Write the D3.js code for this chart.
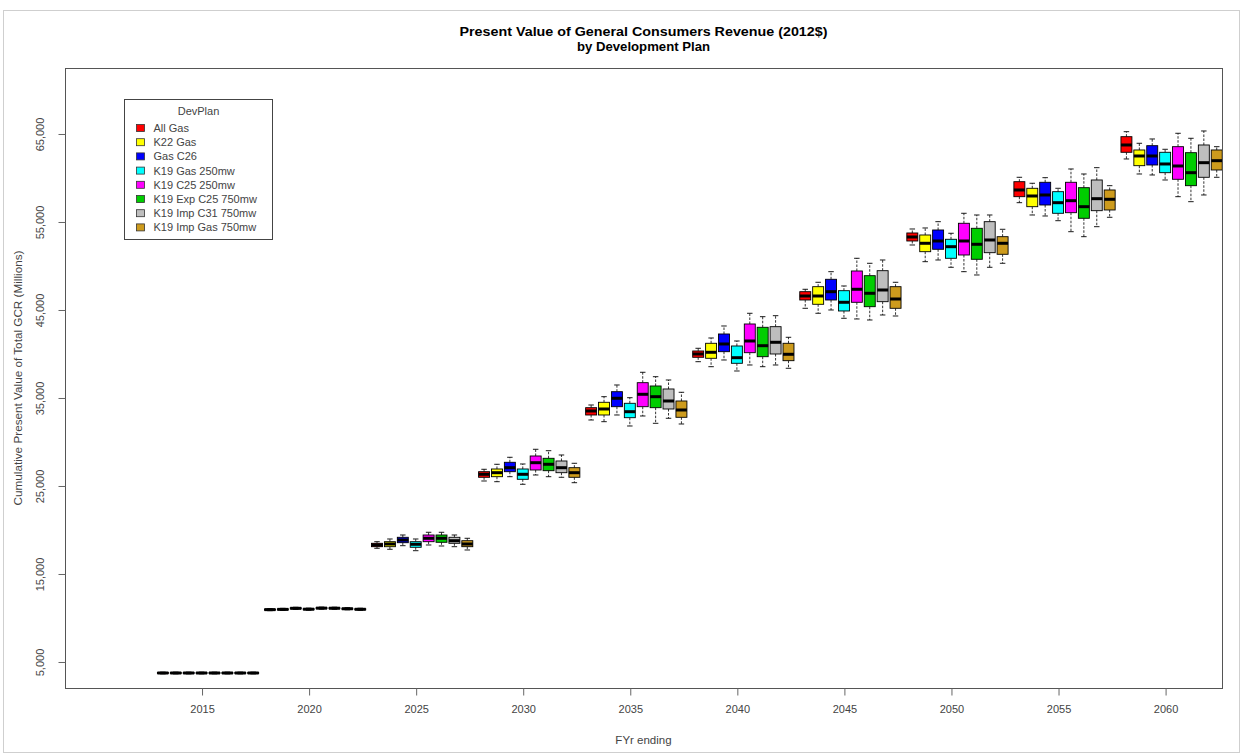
<!DOCTYPE html>
<html>
<head>
<meta charset="utf-8">
<script src="https://cdn.jsdelivr.net/npm/d3@7"></script>
<style>
  html, body { margin: 0; padding: 0; background: #fff; }
  svg text { font-family: "Liberation Sans", Arial, sans-serif; }
</style>
</head>
<body>
<svg id="chart" width="1242" height="755"></svg>
<script>
// development plans, in legend order
const plans = ['All Gas', 'K22 Gas', 'Gas C26', 'K19 Gas 250mw', 'K19 C25 250mw',
               'K19 Exp C25 750mw', 'K19 Imp C31 750mw', 'K19 Imp Gas 750mw'];
const planColors = ['#FF0000', '#FFFF00', '#0000FF', '#00FFFF', '#FF00FF',
                    '#00CD00', '#BEBEBE', '#CD9B1D'];

const years = [2015, 2020, 2025, 2030, 2035, 2040, 2045, 2050, 2055, 2060];
const yTicks = [5000, 15000, 25000, 35000, 45000, 55000, 65000];

// per year: one row per plan -> [lower whisker, Q1, median, Q3, upper whisker]
const fy2015 = [
  [3650, 3690, 3750, 3810, 3850], [3650, 3690, 3750, 3810, 3850],
  [3650, 3690, 3750, 3810, 3850], [3650, 3690, 3750, 3810, 3850],
  [3650, 3690, 3750, 3810, 3850], [3650, 3690, 3750, 3810, 3850],
  [3650, 3690, 3750, 3810, 3850], [3650, 3690, 3750, 3810, 3850]
];
const fy2020 = [
  [10830, 10890, 10950, 11010, 11070], [10860, 10920, 10980, 11040, 11100],
  [10980, 11040, 11100, 11160, 11220], [10880, 10940, 11000, 11060, 11120],
  [11000, 11060, 11120, 11180, 11240], [10990, 11050, 11110, 11170, 11230],
  [10930, 10990, 11050, 11110, 11170], [10870, 10930, 10990, 11050, 11110]
];
const fy2025 = [
  [17921, 18103, 18296, 18489, 18671], [17807, 18103, 18410, 18671, 18978],
  [18216, 18557, 18864, 19171, 19432], [17648, 18034, 18375, 18671, 18978],
  [18296, 18671, 19057, 19432, 19739], [18182, 18603, 19057, 19432, 19739],
  [18103, 18489, 18784, 19171, 19432], [17728, 18103, 18410, 18784, 19057]
];
const fy2030 = [
  [25569, 25989, 26330, 26626, 26898], [25489, 26057, 26512, 26933, 27467],
  [26057, 26626, 27080, 27694, 28262], [25194, 25762, 26330, 26933, 27501],
  [26251, 26819, 27648, 28410, 29171], [26057, 26739, 27467, 28148, 29012],
  [25989, 26512, 27080, 27842, 28523], [25376, 25989, 26512, 27080, 27580]
];
const fy2035 = [
  [32501, 33069, 33524, 33899, 34205], [32308, 33069, 33751, 34512, 35149],
  [33069, 34012, 34967, 35717, 36478], [31819, 32762, 33444, 34398, 35035],
  [32955, 34012, 35421, 36740, 37921], [32125, 33899, 35149, 36365, 37421],
  [32694, 33751, 34660, 36024, 37046], [32046, 32807, 33637, 34660, 35649]
];
const fy2040 = [
  [39126, 39626, 40001, 40342, 40649], [38558, 39512, 40194, 41217, 41819],
  [39319, 40263, 41138, 42274, 43183], [38069, 38944, 39580, 40910, 41478],
  [38751, 40149, 41478, 43410, 44626], [38558, 39694, 40944, 43035, 44240],
  [38751, 40001, 41331, 43104, 44354], [38376, 39240, 39967, 41217, 41899]
];
const fy2045 = [
  [45194, 46138, 46592, 47081, 47354], [44626, 45649, 46592, 47649, 48149],
  [45001, 46138, 47081, 48490, 49354], [44058, 44888, 45876, 47194, 47729],
  [43979, 45876, 47354, 49433, 50876], [43865, 45376, 46899, 48899, 50308],
  [44433, 45945, 47274, 49467, 50683], [44319, 45194, 46251, 47649, 48149]
];
const fy2050 = [
  [52388, 52842, 53297, 53752, 54206], [50490, 51626, 52581, 53524, 54320],
  [50683, 51899, 52842, 54092, 55036], [49853, 50876, 52195, 53036, 53718],
  [49354, 51251, 52842, 54854, 55990], [48979, 50763, 52467, 54285, 55797],
  [49853, 51513, 52956, 55036, 55797], [50308, 51331, 52581, 53331, 54172]
];
const fy2055 = [
  [57195, 57877, 58638, 59581, 60081], [55797, 56740, 57956, 58831, 59400],
  [55683, 56933, 58070, 59513, 60036], [55149, 55990, 57195, 58445, 58831],
  [53899, 56058, 57422, 59513, 61025], [53331, 55422, 56740, 58899, 60456],
  [54468, 56286, 57650, 59774, 61172], [55535, 56365, 57581, 58638, 59127]
];
const fy2060 = [
  [62161, 62922, 63752, 64695, 65263], [60456, 61400, 62502, 63184, 63945],
  [60343, 61479, 62502, 63672, 64434], [59774, 60604, 61593, 62922, 63263],
  [57877, 59854, 61365, 63559, 65081], [57309, 59127, 60604, 62877, 64513],
  [58070, 60081, 61741, 63752, 65343], [60081, 60911, 61968, 63184, 63559]
];
const statsByYear = [fy2015, fy2020, fy2025, fy2030, fy2035, fy2040, fy2045, fy2050, fy2055, fy2060];

// flatten into one row per box
const boxes = [];
years.forEach((yr, yi) => {
  statsByYear[yi].forEach((s, pi) => {
    boxes.push({ year: yr, plan: plans[pi], color: planColors[pi],
                 lo: s[0], q1: s[1], med: s[2], q3: s[3], hi: s[4] });
  });
});

const plot = { left: 65, right: 1222, top: 68, bottom: 688 };
const midX = (plot.left + plot.right) / 2;

const svg = d3.select('#chart');

// faint frame around the whole picture
svg.append('rect')
  .attr('x', 3.5).attr('y', 10.5).attr('width', 1236).attr('height', 742)
  .attr('fill', 'none').attr('stroke', '#cfcfcf');

const x = d3.scaleLinear()
  .domain([2008.6, 2062.635])
  .range([plot.left, plot.right]);

const y = d3.scaleLinear()
  .domain([2045, 72500])
  .range([plot.bottom, plot.top]);

// position of a plan inside its year group (pixels relative to the year tick)
const inner = d3.scaleBand()
  .domain(plans)
  .range([-45.6, 57.6])
  .paddingInner(0.15)
  .paddingOuter(0.075);

svg.append('defs').append('clipPath').attr('id', 'plotClip')
  .append('rect')
  .attr('x', plot.left).attr('y', plot.top)
  .attr('width', plot.right - plot.left).attr('height', plot.bottom - plot.top);

const g = svg.append('g').attr('clip-path', 'url(#plotClip)');

const bw = inner.bandwidth();
const box = g.selectAll('g.box')
  .data(boxes)
  .enter().append('g')
  .attr('class', 'box')
  .attr('transform', d => `translate(${x(d.year) + inner(d.plan)},0)`);

// whiskers (dashed) and caps
box.append('line')
  .attr('x1', bw / 2).attr('x2', bw / 2)
  .attr('y1', d => y(d.q3)).attr('y2', d => y(d.hi))
  .attr('stroke', '#000').attr('stroke-width', 0.8)
  .attr('stroke-dasharray', '2.5,1.5');
box.append('line')
  .attr('x1', bw / 2).attr('x2', bw / 2)
  .attr('y1', d => y(d.q1)).attr('y2', d => y(d.lo))
  .attr('stroke', '#000').attr('stroke-width', 0.8)
  .attr('stroke-dasharray', '2.5,1.5');
box.append('line')
  .attr('x1', bw / 4).attr('x2', bw * 3 / 4)
  .attr('y1', d => y(d.hi)).attr('y2', d => y(d.hi))
  .attr('stroke', '#000').attr('stroke-width', 0.9);
box.append('line')
  .attr('x1', bw / 4).attr('x2', bw * 3 / 4)
  .attr('y1', d => y(d.lo)).attr('y2', d => y(d.lo))
  .attr('stroke', '#000').attr('stroke-width', 0.9);

box.append('rect')
  .attr('x', 0).attr('width', bw)
  .attr('y', d => y(d.q3))
  .attr('height', d => Math.max(0.5, y(d.q1) - y(d.q3)))
  .attr('fill', d => d.color)
  .attr('stroke', '#000').attr('stroke-width', 0.9);

box.append('line')
  .attr('x1', 0).attr('x2', bw)
  .attr('y1', d => y(d.med)).attr('y2', d => y(d.med))
  .attr('stroke', '#000').attr('stroke-width', 3);

// plot frame
svg.append('rect')
  .attr('x', plot.left + 0.5).attr('y', plot.top + 0.5)
  .attr('width', plot.right - plot.left).attr('height', plot.bottom - plot.top)
  .attr('fill', 'none').attr('stroke', '#555').attr('stroke-width', 1);

// axes
const xAxis = d3.axisBottom(x).tickValues(years).tickSize(7).tickPadding(10)
  .tickFormat(d3.format('d'));
const xg = svg.append('g')
  .attr('transform', `translate(0,${plot.bottom + 0.5})`)
  .call(xAxis);
xg.select('.domain').remove();
xg.selectAll('line').attr('stroke', '#666');
xg.selectAll('text').attr('font-size', 11).attr('fill', '#444');

const yAxis = d3.axisLeft(y).tickValues(yTicks).tickSize(7).tickFormat(d3.format(','));
const yg = svg.append('g')
  .attr('transform', `translate(${plot.left + 0.5},0)`)
  .call(yAxis);
yg.select('.domain').remove();
yg.selectAll('line').attr('stroke', '#666');
yg.selectAll('.tick text')
  .attr('font-size', 11).attr('fill', '#444')
  .attr('x', null).attr('dy', null).attr('y', 0)
  .attr('text-anchor', 'middle')
  .attr('transform', 'translate(-22,0) rotate(-90)');

// titles
svg.append('text')
  .attr('x', midX).attr('y', 36)
  .attr('text-anchor', 'middle').attr('font-size', 13).attr('font-weight', 'bold')
  .attr('textLength', 368).attr('lengthAdjust', 'spacingAndGlyphs')
  .text('Present Value of General Consumers Revenue (2012$)');
svg.append('text')
  .attr('x', midX).attr('y', 51)
  .attr('text-anchor', 'middle').attr('font-size', 13).attr('font-weight', 'bold')
  .attr('textLength', 133).attr('lengthAdjust', 'spacingAndGlyphs')
  .text('by Development Plan');

svg.append('text')
  .attr('x', midX).attr('y', 744)
  .attr('text-anchor', 'middle').attr('font-size', 11.5).attr('fill', '#444')
  .text('FYr ending');

svg.append('text')
  .attr('transform', `translate(22,${(plot.top + plot.bottom) / 2}) rotate(-90)`)
  .attr('text-anchor', 'middle').attr('font-size', 11.5).attr('fill', '#444')
  .attr('textLength', 255).attr('lengthAdjust', 'spacingAndGlyphs')
  .text('Cumulative Present Value of Total GCR (Millions)');

// legend
const legend = svg.append('g').attr('transform', 'translate(124.5,99.5)');
legend.append('rect')
  .attr('width', 148).attr('height', 140)
  .attr('fill', '#fff').attr('stroke', '#444');
legend.append('text')
  .attr('x', 74).attr('y', 15)
  .attr('text-anchor', 'middle').attr('font-size', 11).attr('fill', '#444')
  .text('DevPlan');
const item = legend.selectAll('g.item')
  .data(plans)
  .enter().append('g')
  .attr('transform', (d, i) => `translate(12,${28.5 + i * 14.2})`);
item.append('rect')
  .attr('x', 0).attr('y', -3.5).attr('width', 8).attr('height', 7)
  .attr('fill', (d, i) => planColors[i]).attr('stroke', '#333').attr('stroke-width', 0.8);
item.append('text')
  .attr('x', 17).attr('y', 4)
  .attr('font-size', 11).attr('fill', '#444')
  .text(d => d);
</script>
</body>
</html>
